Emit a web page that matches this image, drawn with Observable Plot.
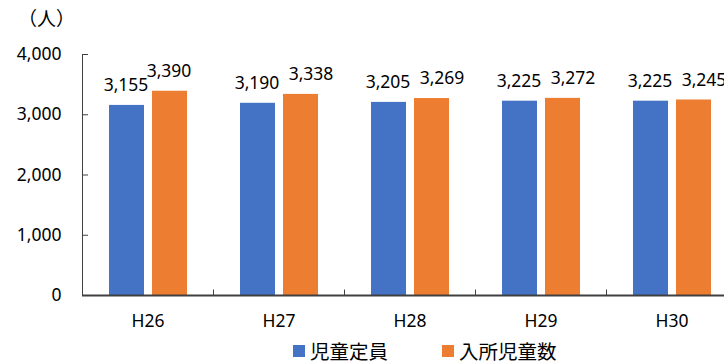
<!DOCTYPE html>
<html><head><meta charset="utf-8">
<script src="https://cdn.jsdelivr.net/npm/d3@7"></script>
<script src="https://cdn.jsdelivr.net/npm/@observablehq/plot@0.6"></script>
<style>
body{margin:0;background:#fff;}
#wrap{position:relative;width:724px;height:361px;overflow:hidden;background:#fff;}
#unit{position:absolute;left:18px;top:5px;font-family:"Noto Sans CJK JP",sans-serif;font-size:19px;color:#000;line-height:26px;}
#legend{position:absolute;top:341px;left:0;width:724px;height:20px;font-family:"Noto Sans CJK JP",sans-serif;font-size:19.5px;color:#000;}
.item{position:absolute;top:0;display:flex;align-items:center;height:20px;line-height:20px;white-space:nowrap;}
.sw{width:12px;height:12px;margin-right:5px;}
</style></head><body>
<div id="wrap"><div id="unit"></div><div id="legend"></div></div>
<script>
const years = ["H26","H27","H28","H29","H30"];
const teiin = [3155,3190,3205,3225,3225];
const nyusho = [3390,3338,3269,3272,3245];
const yTicks = [0,1000,2000,3000,4000];
const unitLabel = "（人）";
const seriesNames = ["児童定員","入所児童数"];
const colors = ["#4472C4","#ED7D31"];

const rows = years.map((y,i)=>({year:y, teiin:teiin[i], nyusho:nyusho[i]}));
const fmt = d3.format(",");
const axisColor = "#404040";

const chart = Plot.plot({
  width:724, height:361,
  marginLeft:82, marginTop:54, marginBottom:66, marginRight:0,
  style:{fontFamily:'"Noto Sans", sans-serif', fontSize:"17.5px", color:"#000", background:"transparent", overflow:"hidden"},
  x:{domain:years, range:[82,737], padding:0, label:null},
  y:{domain:[0,4000], label:null},
  marks:[
    Plot.barY(rows,{x:"year", y:"teiin", fill:colors[0], insetLeft:27, insetRight:69}),
    Plot.barY(rows,{x:"year", y:"nyusho", fill:colors[1], insetLeft:70, insetRight:26}),
    Plot.text(rows,{x:"year", y:"teiin", text:d=>fmt(d.teiin), dx:-22, dy:-20, fill:"#000"}),
    Plot.text(rows.slice(0,1),{x:"year", y:"nyusho", text:d=>fmt(d.nyusho), dx:21, dy:-20, fill:"#000"}),
    Plot.text(rows.slice(1),{x:"year", y:"nyusho", text:d=>fmt(d.nyusho), dx:32, dy:-20, fill:"#000"}),
    Plot.axisY(yTicks,{anchor:"left", tickSize:0, tickPadding:21, tickFormat:fmt, fill:"#000", label:null}),
    Plot.axisX({tickSize:0, tickPadding:19, fill:"#000", label:null}),
    Plot.tickY(yTicks,{y:d=>d, x:()=>years[0], insetRight:125, stroke:axisColor, strokeWidth:1}),
    Plot.ruleX(years.slice(0,1),{x:d=>d, dx:-65.5, y1:0, y2:4000, stroke:axisColor, strokeWidth:1}),
    Plot.ruleX(years,{x:d=>d, dx:-65.5, y1:0, y2:90, stroke:axisColor, strokeWidth:1}),
    Plot.ruleY([0],{stroke:axisColor, strokeWidth:2})
  ]
});
chart.style.position = "absolute";
chart.style.left = "0";
chart.style.top = "0";
document.getElementById("wrap").prepend(chart);
document.getElementById("unit").textContent = unitLabel;

const legend = document.getElementById("legend");
const legendLeft = [293, 442];
seriesNames.forEach((name,i)=>{
  const it = document.createElement("div");
  it.className = "item";
  it.style.left = legendLeft[i] + "px";
  const sw = document.createElement("span");
  sw.className = "sw";
  sw.style.background = colors[i];
  const tx = document.createElement("span");
  tx.textContent = name;
  it.append(sw, tx);
  legend.append(it);
});
</script>
</body></html>
